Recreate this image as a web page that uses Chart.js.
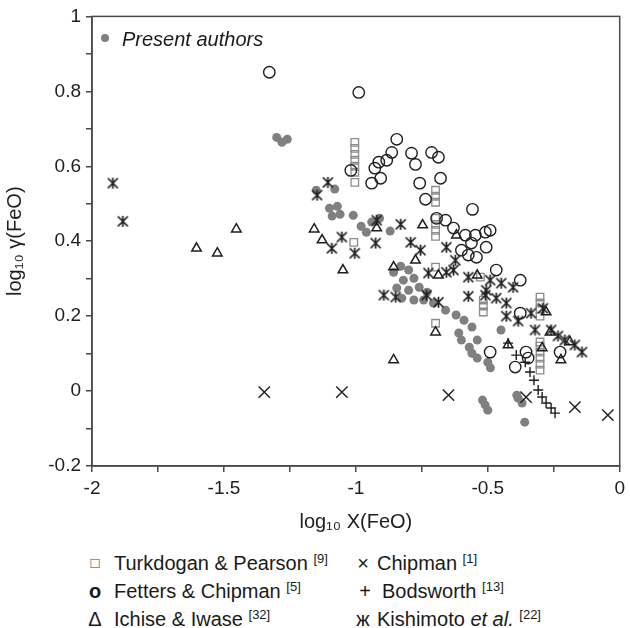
<!DOCTYPE html>
<html>
<head>
<meta charset="utf-8">
<script src="https://cdn.jsdelivr.net/npm/chart.js@4.4.0/dist/chart.umd.min.js"></script>
<style>
  body { margin: 0; background: #fff; font-family: "Liberation Sans", Arial, sans-serif; color: #1a1a1a; }
  #wrap { position: relative; width: 630px; height: 628px; }
  #chart { position: absolute; left: 0; top: 0; }
  .lbl { position: absolute; font-size: 20px; line-height: 28px; white-space: nowrap; }
  .sym { position: absolute; font-size: 20px; line-height: 28px; text-align: center; width: 16px; }
  sup { font-size: 13px; vertical-align: 7px; line-height: 0; }
  #dot { position: absolute; left: 101px; top: 34px; width: 8px; height: 8px; border-radius: 50%; background: #808080; }
</style>
</head>
<body>
<div id="wrap">
  <canvas id="chart" width="630" height="535"></canvas>
  <div id="dot"></div>
  <div class="lbl" style="left:122px; top:25px; font-style:italic;">Present authors</div>

  <div class="sym" style="left:87px; top:549px; font-size:15px; color:#444;">□</div>
  <div class="lbl" style="left:114px; top:549px;">Turkdogan &amp; Pearson <sup>[9]</sup></div>
  <div class="sym" style="left:87px; top:577px; font-weight:bold;">o</div>
  <div class="lbl" style="left:114px; top:577px;">Fetters &amp; Chipman <sup>[5]</sup></div>
  <div class="sym" style="left:87px; top:605px;">Δ</div>
  <div class="lbl" style="left:114px; top:605px;">Ichise &amp; Iwase <sup>[32]</sup></div>

  <div class="sym" style="left:355px; top:549px;">×</div>
  <div class="lbl" style="left:377px; top:549px;">Chipman <sup>[1]</sup></div>
  <div class="sym" style="left:357px; top:577px;">+</div>
  <div class="lbl" style="left:382px; top:577px;">Bodsworth <sup>[13]</sup></div>
  <div class="sym" style="left:355px; top:605px;">ж</div>
  <div class="lbl" style="left:377px; top:605px;">Kishimoto <i>et al.</i> <sup>[22]</sup></div>
</div>
<script>
// [log10 X(FeO), log10 gamma(FeO)] pairs
const presentAuthors = [
  [-1.30, 0.677], [-1.28, 0.664], [-1.26, 0.672], [-1.15, 0.536], [-1.08, 0.539],
  [-1.10, 0.488], [-1.07, 0.493], [-1.09, 0.467], [-1.06, 0.472], [-1.01, 0.469],
  [-0.98, 0.440], [-0.96, 0.424], [-0.94, 0.451], [-0.91, 0.461], [-0.87, 0.427],
  [-0.857, 0.317], [-0.83, 0.333], [-0.80, 0.323], [-0.82, 0.296], [-0.78, 0.301],
  [-0.845, 0.275], [-0.80, 0.269], [-0.76, 0.277], [-0.73, 0.264], [-0.826, 0.248],
  [-0.78, 0.243], [-0.743, 0.243], [-0.706, 0.235], [-0.66, 0.216], [-0.62, 0.203],
  [-0.59, 0.189], [-0.56, 0.171], [-0.61, 0.155], [-0.60, 0.136], [-0.57, 0.117],
  [-0.56, 0.101], [-0.54, 0.088], [-0.54, 0.136], [-0.50, 0.077], [-0.49, 0.062],
  [-0.45, 0.163], [-0.52, -0.024], [-0.51, -0.037], [-0.50, -0.051], [-0.39, -0.011],
  [-0.385, -0.019], [-0.37, -0.032], [-0.36, -0.083]
];
const turkdoganPearson = [
  [-1.004, 0.664], [-1.004, 0.648], [-1.004, 0.632], [-1.004, 0.616], [-1.004, 0.600],
  [-1.004, 0.584], [-1.004, 0.557], [-1.008, 0.397],
  [-0.698, 0.536], [-0.698, 0.520], [-0.698, 0.504], [-0.698, 0.461], [-0.698, 0.445],
  [-0.698, 0.429], [-0.698, 0.413], [-0.698, 0.331], [-0.698, 0.181],
  [-0.528, 0.304], [-0.517, 0.243], [-0.517, 0.227], [-0.517, 0.211],
  [-0.302, 0.251], [-0.302, 0.235], [-0.302, 0.219], [-0.302, 0.200], [-0.302, 0.131],
  [-0.302, 0.120], [-0.302, 0.104], [-0.302, 0.088], [-0.302, 0.072], [-0.302, 0.056]
];
const fettersChipman = [
  [-1.328, 0.851], [-0.989, 0.797], [-1.019, 0.589], [-0.928, 0.595], [-0.913, 0.611],
  [-0.883, 0.616], [-0.864, 0.637], [-0.845, 0.672], [-0.789, 0.635], [-0.774, 0.605],
  [-0.713, 0.637], [-0.687, 0.624], [-0.679, 0.568], [-0.758, 0.555], [-0.940, 0.555],
  [-0.906, 0.568], [-0.736, 0.512], [-0.558, 0.485], [-0.694, 0.461], [-0.660, 0.456],
  [-0.630, 0.435], [-0.585, 0.416], [-0.547, 0.416], [-0.509, 0.424], [-0.491, 0.429],
  [-0.562, 0.395], [-0.506, 0.384], [-0.600, 0.376], [-0.574, 0.363], [-0.543, 0.357],
  [-0.468, 0.323], [-0.377, 0.296], [-0.377, 0.208], [-0.491, 0.104], [-0.355, 0.104],
  [-0.347, 0.088], [-0.396, 0.064], [-0.226, 0.104]
];
const ichiseIwase = [
  [-1.604, 0.381], [-1.525, 0.368], [-1.453, 0.432], [-1.158, 0.432], [-1.128, 0.403],
  [-1.049, 0.323], [-0.921, 0.435], [-0.857, 0.331], [-0.774, 0.349], [-0.747, 0.443],
  [-0.687, 0.309], [-0.619, 0.416], [-0.540, 0.309], [-0.698, 0.157], [-0.857, 0.083],
  [-0.279, 0.211], [-0.264, 0.157], [-0.189, 0.131], [-0.294, 0.115], [-0.223, 0.083],
  [-0.423, 0.123]
];
const chipman = [
  [-1.347, -0.003], [-1.053, -0.003], [-0.649, -0.011], [-0.355, -0.016], [-0.170, -0.043],
  [-0.045, -0.064]
];
const bodsworth = [
  [-0.423, 0.128], [-0.392, 0.096], [-0.358, 0.077], [-0.340, 0.051], [-0.325, 0.029],
  [-0.309, 0.003], [-0.294, -0.016], [-0.279, -0.032], [-0.260, -0.045], [-0.245, -0.059]
];
const kishimoto = [
  [-1.921, 0.555], [-1.883, 0.453], [-1.106, 0.557], [-1.147, 0.523], [-1.053, 0.411],
  [-1.091, 0.381], [-1.004, 0.368], [-0.925, 0.395], [-0.921, 0.456], [-0.830, 0.445],
  [-0.792, 0.397], [-0.755, 0.376], [-0.657, 0.384], [-0.623, 0.349], [-0.630, 0.323],
  [-0.725, 0.315], [-0.657, 0.317], [-0.574, 0.304], [-0.491, 0.296], [-0.506, 0.269],
  [-0.894, 0.256], [-0.849, 0.251], [-0.732, 0.256], [-0.687, 0.237], [-0.574, 0.253],
  [-0.509, 0.256], [-0.468, 0.248], [-0.430, 0.235], [-0.430, 0.200], [-0.385, 0.187],
  [-0.336, 0.208], [-0.321, 0.163], [-0.260, 0.163], [-0.234, 0.147], [-0.208, 0.136],
  [-0.170, 0.123], [-0.143, 0.104], [-0.449, 0.288], [-0.404, 0.277], [-0.291, 0.221]
];

const xTicksMajor = [-2, -1.5, -1, -0.5, 0];
const yTicksMajor = [-0.2, 0, 0.2, 0.4, 0.6, 0.8, 1];

const toPts = arr => arr.map(([x, y]) => ({ x, y }));
const ink = '#1e1e1e';
const axisColor = '#4a4a4a';

// ж marker
function zheMarker(size) {
  const c = document.createElement('canvas');
  c.width = size; c.height = size;
  const g = c.getContext('2d');
  g.strokeStyle = ink;
  g.lineWidth = 1.7;
  const m = size / 2, r = size / 2 - 1.5;
  g.beginPath();
  g.moveTo(m, 1); g.lineTo(m, size - 1);
  g.moveTo(m - r, m - r); g.lineTo(m + r, m + r);
  g.moveTo(m + r, m - r); g.lineTo(m - r, m + r);
  g.stroke();
  return c;
}

const frame = {
  id: 'frame',
  afterDraw(chart) {
    const { ctx, chartArea: a } = chart;
    ctx.save();
    ctx.strokeStyle = axisColor;
    ctx.lineWidth = 1.5;
    ctx.strokeRect(a.left, a.top, a.right - a.left, a.bottom - a.top);
    ctx.restore();
  }
};

const near = (v, list) => list.some(t => Math.abs(v - t) < 1e-6);

new Chart(document.getElementById('chart'), {
  type: 'scatter',
  data: {
    datasets: [
      { label: 'Present authors', data: toPts(presentAuthors), pointStyle: 'circle', pointRadius: 4.5,
        backgroundColor: '#808080', borderColor: '#808080', borderWidth: 0, order: 7 },
      { label: 'Turkdogan & Pearson', data: toPts(turkdoganPearson), pointStyle: 'rect', pointRadius: 5.3,
        backgroundColor: 'rgba(0,0,0,0)', borderColor: '#8c8c8c', borderWidth: 1.3, order: 6 },
      { label: 'Fetters & Chipman', data: toPts(fettersChipman), pointStyle: 'circle', pointRadius: 5.7,
        backgroundColor: 'rgba(0,0,0,0)', borderColor: ink, borderWidth: 1.4, order: 5 },
      { label: 'Ichise & Iwase', data: toPts(ichiseIwase), pointStyle: 'triangle', pointRadius: 5.5,
        backgroundColor: 'rgba(0,0,0,0)', borderColor: ink, borderWidth: 1.5, order: 4 },
      { label: 'Chipman', data: toPts(chipman), pointStyle: 'crossRot', pointRadius: 8,
        borderColor: ink, borderWidth: 1.4, order: 3 },
      { label: 'Bodsworth', data: toPts(bodsworth), pointStyle: 'cross', pointRadius: 5,
        borderColor: ink, borderWidth: 1.4, order: 2 },
      { label: 'Kishimoto et al.', data: toPts(kishimoto), pointStyle: zheMarker(13),
        borderColor: ink, order: 1 }
    ]
  },
  options: {
    responsive: false,
    animation: false,
    events: [],
    layout: { padding: { top: 16, right: 8, left: 0, bottom: 0 } },
    plugins: { legend: { display: false }, tooltip: { enabled: false } },
    scales: {
      x: {
        type: 'linear', min: -2, max: 0,
        afterFit: s => { s.height = 69; },
        border: { color: axisColor, width: 1.5 },
        grid: { drawOnChartArea: false, tickLength: 6, color: axisColor, lineWidth: 1.5 },
        ticks: {
          stepSize: 0.25, autoSkip: false, maxRotation: 0, padding: 5,
          color: ink, font: { family: '"Liberation Sans", Arial, sans-serif', size: 19 },
          callback: v => near(v, xTicksMajor) ? String(+v.toFixed(1)) : ''
        },
        title: {
          display: true, text: 'log₁₀ X(FeO)', color: ink, padding: { top: 0, bottom: 1 },
          font: { family: '"Liberation Sans", Arial, sans-serif', size: 20 }
        }
      },
      y: {
        type: 'linear', min: -0.2, max: 1,
        afterFit: s => { s.width = 92; },
        border: { color: axisColor, width: 1.5 },
        grid: { drawOnChartArea: false, tickLength: 6, color: axisColor, lineWidth: 1.5 },
        ticks: {
          stepSize: 0.1, autoSkip: false, padding: 5,
          color: ink, font: { family: '"Liberation Sans", Arial, sans-serif', size: 19 },
          callback: v => near(v, yTicksMajor) ? String(+v.toFixed(1)) : ''
        },
        title: {
          display: true, text: 'log₁₀ γ(FeO)', color: ink, padding: { top: 3, bottom: 0 },
          font: { family: '"Liberation Sans", Arial, sans-serif', size: 20 }
        }
      }
    }
  },
  plugins: [frame]
});
</script>
</body>
</html>
